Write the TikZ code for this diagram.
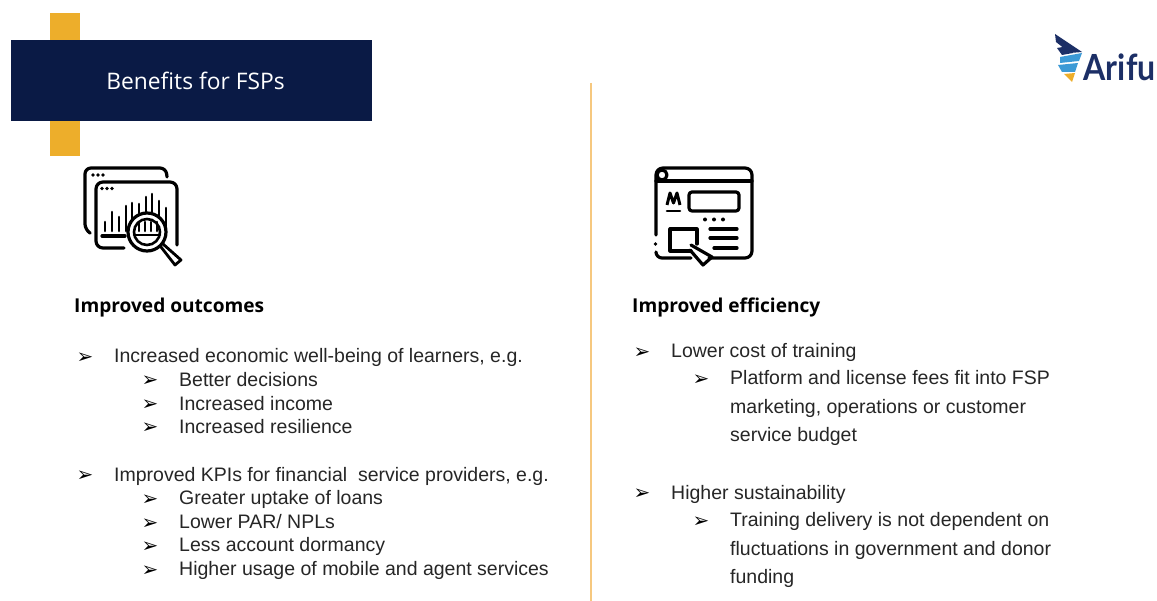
\documentclass[tikz,border=0pt]{standalone}
\usepackage{fontspec}
\setmainfont{Liberation Sans}
\newfontfamily\titlefont{Open Sans}
\newfontfamily\logofont{Lato}
\newfontfamily\bulletfont{DejaVu Sans}
\definecolor{navy}{HTML}{0A1A45}
\definecolor{gold}{HTML}{EDAE2B}
\definecolor{divider}{HTML}{F6C87F}
\definecolor{logonavy}{HTML}{1C2F66}
\definecolor{logoblue}{HTML}{3C9AD6}
\definecolor{ink}{HTML}{262626}
\tikzset{
  x=1pt,y=-1pt,
  body/.style={anchor=base west,inner sep=0pt,text=ink,font=\fontsize{19.5}{22}\selectfont},
  heading/.style={anchor=base west,inner sep=0pt,text=black,font=\titlefont\bfseries\fontsize{19.1}{22}\selectfont},
  bul/.style={anchor=base west,inner sep=0pt,text=black,xshift=-1.5pt,yshift=-2pt,font=\bulletfont\fontsize{20}{20}\selectfont},
  icon/.style={line width=3.2pt,line cap=round,line join=round,black},
  thin icon/.style={line width=2.6pt,line cap=round,line join=round,black},
}
\begin{document}
\begin{tikzpicture}
\useasboundingbox (0,0) rectangle (1157,601);
\fill[white] (0,0) rectangle (1157,601);
% title
\fill[gold] (50,13) rectangle (79.5,156);
\node[fill=navy,minimum width=361pt,minimum height=80.5pt,inner sep=0pt,anchor=north west] (titlebox) at (10.5,40) {};
\node[anchor=base,inner sep=0pt,text=white,font=\titlefont\fontsize{22.8}{26}\selectfont] (title) at (195.5,90) {Benefits for FSPs};
% divider
\draw[divider,line width=2pt] (590.5,83) -- (590.5,601);
% logo
\fill[logonavy] (1055,34) -- (1082,52) -- (1070,53) -- (1056,42) -- cycle;
\fill[logonavy] (1057,48) -- (1063,47) -- (1073,53) -- (1062,55) -- cycle;
\fill[logoblue] (1060,57) -- (1082,53) -- (1079,61) -- (1060,63) -- cycle;
\fill[logoblue] (1058,65) -- (1078,63) -- (1075,72) -- (1062,72) -- cycle;
\fill[gold] (1064,74) -- (1075,73) -- (1072,82) -- cycle;
\node[anchor=base west,inner sep=0pt,text=logonavy,font=\logofont\bfseries\fontsize{36}{36}\selectfont] (logo) at (1083.5,81) {\scalebox{0.89}[1]{Arifu}};
% icon left
\draw[icon,rounded corners=6pt] (90,233) -- (85,230) -- (85,168) -- (166,168) -- (167,177);
\draw[icon,rounded corners=7pt] (124,248) -- (96,248) -- (96,182) -- (177,182) -- (177,245);
\foreach \px in {93,98,103}{\fill (\px,175) circle[radius=1.8];}
\foreach \px in {102,107,112}{\fill (\px,188.5) circle[radius=1.8];}
\draw[icon] (102,236) -- (125,236);
\foreach \px/\py in {105/222,112/212,119/217,126/206,132/203,139/204,146/197,152/194,159/201,166/208}{\draw[thin icon] (\px,\py) -- (\px,231);}
\fill[white] (147,232) circle[radius=20];
\draw[icon] (147,232) circle[radius=19];
\draw[thin icon] (147,232) circle[radius=13];
\foreach \px in {139,145,151,157}{\draw[thin icon] (\px,222) -- (\px,231);}
\draw[thin icon] (134,235) -- (160,235);
\draw[icon,line width=2.8pt] (161,247) -- (175,265) -- (181,260) -- (163,244);
% icon right
\draw[icon,rounded corners=7pt] (656,235) -- (656,168) -- (752,168) -- (752,258) -- (709,258);
\draw[icon,rounded corners=6pt] (656,252) -- (656,258) -- (691,258);
\fill (655.5,244) circle[radius=1.9];
\draw[icon] (656,181) -- (752,181);
\draw[icon,fill=white] (662,175) circle[radius=5];
\draw[thin icon,line cap=butt,line width=3pt] (667,205) -- (670,193) -- (673.5,203) -- (677,193) -- (680,205);
\draw[thin icon] (667,211) -- (680,211);
\draw[icon,rounded corners=3pt] (689,192) rectangle (739,211);
\foreach \px in {705,714,723}{\fill (\px,219.5) circle[radius=2];}
\draw[icon] (710,229) -- (737,229);
\draw[icon] (710,238) -- (737,238);
\draw[icon] (714,248) -- (737,248);
\draw[icon] (691,251) -- (670,251) -- (670,229) -- (697,229) -- (697,244);
\draw[icon] (691,245) -- (712,257) -- (703,265) -- (690,250);
% left column
\node[heading] (hl) at (74,313) {Improved outcomes};
\node[bul] (b1) at (78,362) {➢};
\node[body] (t1) at (114,363) {Increased economic well-being of learners, e.g.};
\node[bul] (b11) at (143,385) {➢};
\node[body] (t11) at (179,387) {Better decisions};
\node[bul] (b12) at (143,409) {➢};
\node[body] (t12) at (179,411) {Increased income};
\node[bul] (b13) at (143,432) {➢};
\node[body] (t13) at (179,434) {Increased resilience};
\node[bul] (b2) at (78,480) {➢};
\node[body] (t2) at (114,481.5) {Improved KPIs for financial\ \ service providers, e.g.};
\node[bul] (b21) at (143,503) {➢};
\node[body] (t21) at (179,504) {Greater uptake of loans};
\node[bul] (b22) at (143,527) {➢};
\node[body] (t22) at (179,528) {Lower PAR/ NPLs};
\node[bul] (b23) at (143,550) {➢};
\node[body] (t23) at (179,551) {Less account dormancy};
\node[bul] (b24) at (143,574) {➢};
\node[body] (t24) at (179,575) {Higher usage of mobile and agent services};
% right column
\node[heading] (hr) at (632,313) {Improved efficiency};
\node[bul] (c1) at (635,357) {➢};
\node[body] (u1) at (671,358) {Lower cost of training};
\node[bul] (c11) at (694,384) {➢};
\node[body] (u11) at (730,385) {Platform and license fees fit into FSP};
\node[body] (u12) at (730,414) {marketing, operations or customer};
\node[body] (u13) at (730,442) {service budget};
\node[bul] (c2) at (635,498) {➢};
\node[body] (u2) at (671,499) {Higher sustainability};
\node[bul] (c21) at (694,525) {➢};
\node[body] (u21) at (730,526) {Training delivery is not dependent on};
\node[body] (u22) at (730,555) {fluctuations in government and donor};
\node[body] (u23) at (730,583) {funding};
\end{tikzpicture}
\end{document}
